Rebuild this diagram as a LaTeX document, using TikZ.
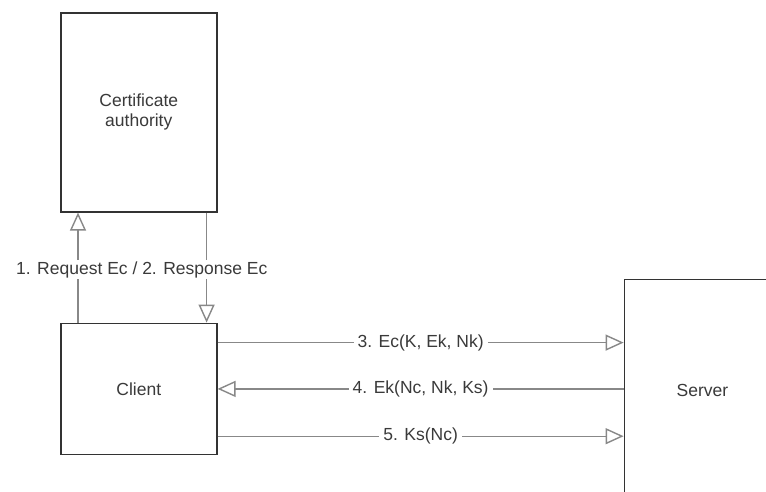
\documentclass[tikz,border=0pt]{standalone}
\usepackage{fontspec}
\setmainfont{Liberation Sans}
\usepackage{tikz}
\usetikzlibrary{positioning,arrows.meta,calc}

\definecolor{boxline}{HTML}{333333}
\definecolor{msgline}{HTML}{888888}
\definecolor{txt}{HTML}{3A3A3A}

\begin{document}
\begin{tikzpicture}[
  x=1pt, y=-1pt,
  box/.style={draw=boxline, line width=1.6pt, fill=white, minimum width=156pt,
              align=center, text=txt, font=\fontsize{17.5}{20}\selectfont},
  msg/.style={draw=msgline, line width=1.4pt,
              -{Triangle[open, length=18pt, width=16pt]}},
  lbl/.style={fill=white, inner xsep=4pt, inner ysep=1pt, text=txt,
              font=\fontsize{17.5}{20}\selectfont}
]
  \clip (0,0) rectangle (766,491);
  \fill[white] (0,0) rectangle (766,491);

  \node[box, minimum height=199pt, anchor=north west] (ca) at (60,12) {Certificate\\ authority};
  \node[box, minimum height=131pt] (client) [below=110pt of ca] {Client};
  \node[box, minimum height=222pt, anchor=north west] (server)
       at ([xshift=406pt, yshift=44pt]client.north east) {Server};

  % request / response
  \draw[msg] ([xshift=18pt]client.north west) -- ([xshift=18pt]ca.south west);
  \draw[msg] ([xshift=-11pt]ca.south east) -- ([xshift=-11pt]client.north east);
  \node[lbl] (reqresp) at ($(ca.south)!0.5!(client.north)+(3,2)$)
       {1. Request Ec / 2. Response Ec};

  % exchange with the server
  \draw[msg] ([yshift=-20pt]client.north east) -- ([yshift=-20pt]client.north east -| server.west)
       node[lbl, midway] (m3) {3. Ec(K, Ek, Nk)};
  \draw[msg] (client.east -| server.west) -- (client.east)
       node[lbl, midway] (m4) {4. Ek(Nc, Nk, Ks)};
  \draw[msg] ([yshift=19pt]client.south east) -- ([yshift=19pt]client.south east -| server.west)
       node[lbl, midway] (m5) {5. Ks(Nc)};
\end{tikzpicture}
\end{document}
